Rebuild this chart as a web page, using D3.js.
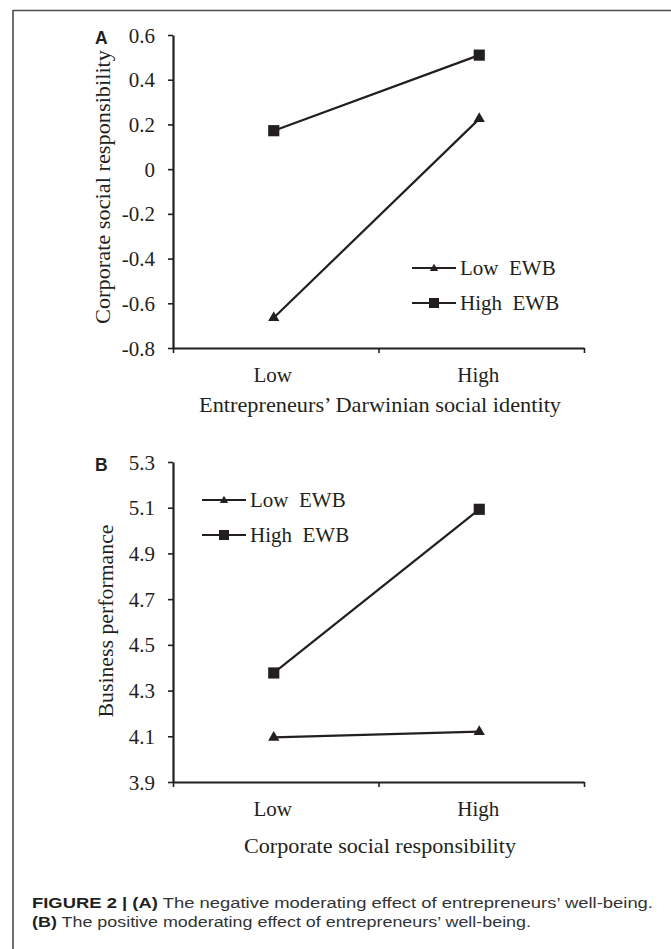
<!DOCTYPE html>
<html>
<head>
<meta charset="utf-8">
<script src="https://cdn.jsdelivr.net/npm/d3@7"></script>
<style>
    body { margin: 0; background: #fff; }
    svg { display: block; }
    text { fill: #231f20; }
    .serif { font-family: "Liberation Serif", "Times New Roman", serif; font-size: 21px; }
</style>
</head>
<body>
<svg id="fig"></svg>
<script>
// values
var categories = ["Low", "High"];
var seriesNames = ["Low  EWB", "High  EWB"];

var aLowEWB = [-0.665, 0.225];
var aHighEWB = [0.172, 0.51];
var aTicks = [-0.8, -0.6, -0.4, -0.2, 0, 0.2, 0.4, 0.6];

var bLowEWB = [4.095, 4.12];
var bHighEWB = [4.377, 5.093];
var bTicks = [3.9, 4.1, 4.3, 4.5, 4.7, 4.9, 5.1, 5.3];

var ink = "#231f20";
var W = 671, H = 949;

var svg = d3.select("#fig").attr("width", W).attr("height", H);

// frame (top and left rules)
svg.append("line").attr("x1", 13).attr("x2", W).attr("y1", 10.5).attr("y2", 10.5)
    .attr("stroke", "#4d4d4d").attr("stroke-width", 1.6);
svg.append("line").attr("x1", 13).attr("x2", 13).attr("y1", 10).attr("y2", H)
    .attr("stroke", "#4d4d4d").attr("stroke-width", 1.6);

function fmt(d) {
    if (d === 0) return "0";
    var s = d3.format(".1f")(Math.abs(d));
    return (d < 0 ? "-" : "") + s;
}

function drawMarker(g, type, x, y, big) {
    var sym = type === "square" ? d3.symbolSquare : d3.symbolTriangle;
    var size = type === "square" ? (big ? 125 : 100) : (big ? 55 : 30);
    g.append("path").attr("d", d3.symbol().type(sym).size(size)())
        .attr("transform", "translate(" + x + "," + y + ")").attr("fill", ink);
}

function drawPanel(cfg) {
    var g = svg.append("g");

    var x = d3.scaleBand().domain(categories).range([173, 584]).padding(0);
    var xEdge = d3.scaleLinear().domain([0, categories.length]).range([173, 584]);
    var y = d3.scaleLinear().domain(cfg.domain).range([cfg.bottom, cfg.top]);

    // Y axis
    var yg = g.append("g").attr("transform", "translate(173,0)")
        .call(d3.axisLeft(y).tickValues(cfg.ticks).tickFormat(fmt)
            .tickSize(5).tickSizeOuter(0).tickPadding(13));
    // X axis: ticks on band edges
    var xg = g.append("g").attr("transform", "translate(0," + cfg.bottom + ")")
        .call(d3.axisBottom(xEdge).tickValues(d3.range(categories.length + 1))
            .tickFormat("").tickSize(5).tickSizeOuter(0));

    [yg, xg].forEach(function (a) {
        a.select(".domain").attr("stroke", ink).attr("stroke-width", 2.2);
        a.selectAll(".tick line").attr("stroke", ink).attr("stroke-width", 1.6);
        a.selectAll(".tick text").attr("class", "serif").style("fill", ink);
    });
    yg.selectAll(".tick text").attr("dy", "0.34em");

    // category labels
    g.selectAll(".cat").data(categories).enter().append("text")
        .attr("class", "serif")
        .attr("x", function (d) { return x(d) + x.bandwidth() / 2 - 3; })
        .attr("y", cfg.bottom + 34)
        .attr("text-anchor", "middle")
        .text(function (d) { return d; });

    // axis titles
    g.append("text").attr("class", "serif")
        .attr("x", 380).attr("y", cfg.bottom + cfg.xTitleGap)
        .attr("text-anchor", "middle")
        .attr("textLength", cfg.xTitleLen).attr("lengthAdjust", "spacingAndGlyphs")
        .text(cfg.xTitle);
    g.append("text").attr("class", "serif")
        .attr("transform", "translate(" + cfg.yTitleX + "," + cfg.yTitleY + ") rotate(-90)")
        .attr("text-anchor", "middle")
        .attr("textLength", cfg.yTitleLen).attr("lengthAdjust", "spacingAndGlyphs")
        .text(cfg.yTitle);

    // panel letter
    g.append("text").attr("x", 95).attr("y", cfg.top + 8.5)
        .style("font-family", "Liberation Sans, Arial, sans-serif")
        .style("font-weight", "bold").style("font-size", "17.5px")
        .text(cfg.letter);

    // series lines + markers
    function px(i) { return x(categories[i]) + x.bandwidth() / 2 - 2; }
    var line = d3.line()
        .x(function (d, i) { return px(i); })
        .y(function (d) { return y(d); });

    var series = [
        {name: seriesNames[0], values: cfg.low, marker: "triangle"},
        {name: seriesNames[1], values: cfg.high, marker: "square"}
    ];

    series.forEach(function (s) {
        g.append("path").datum(s.values).attr("d", line)
            .attr("fill", "none").attr("stroke", ink).attr("stroke-width", 2.2);
        s.values.forEach(function (v, i) {
            drawMarker(g, s.marker, px(i), y(v), true);
        });
    });

    // legend
    series.forEach(function (s, i) {
        var ly = cfg.legY + i * 35;
        g.append("line").attr("x1", cfg.legX).attr("x2", cfg.legX + 44)
            .attr("y1", ly).attr("y2", ly).attr("stroke", ink).attr("stroke-width", 2);
        drawMarker(g, s.marker, cfg.legX + 22, ly + (s.marker === "triangle" ? 0.5 : 0), false);
        g.append("text").attr("class", "serif").style("white-space", "pre")
            .attr("x", cfg.legX + 48).attr("y", ly).attr("dy", "0.34em")
            .text(s.name);
    });
}

drawPanel({
    letter: "A", domain: [-0.8, 0.6], ticks: aTicks, top: 35, bottom: 348,
    low: aLowEWB, high: aHighEWB,
    xTitle: "Entrepreneurs\u2019 Darwinian social identity", xTitleGap: 64, xTitleLen: 362,
    yTitle: "Corporate social responsibility", yTitleX: 110, yTitleY: 187, yTitleLen: 274,
    legX: 412, legY: 268
});

drawPanel({
    letter: "B", domain: [3.9, 5.3], ticks: bTicks, top: 462, bottom: 782,
    low: bLowEWB, high: bHighEWB,
    xTitle: "Corporate social responsibility", xTitleGap: 71, xTitleLen: 272,
    yTitle: "Business performance", yTitleX: 113, yTitleY: 621, yTitleLen: 193,
    legX: 202, legY: 500
});

// caption
var cap = svg.append("g")
    .style("font-family", "Liberation Sans, Arial, sans-serif").style("font-size", "14px");
var l1 = cap.append("text").attr("x", 32).attr("y", 908)
    .attr("textLength", 621).attr("lengthAdjust", "spacingAndGlyphs");
l1.append("tspan").style("font-weight", "bold").text("FIGURE 2 | (A)");
l1.append("tspan").style("fill", "#333").text(" The negative moderating effect of entrepreneurs\u2019 well-being.");
var l2 = cap.append("text").attr("x", 32).attr("y", 927)
    .attr("textLength", 499).attr("lengthAdjust", "spacingAndGlyphs");
l2.append("tspan").style("font-weight", "bold").text("(B)");
l2.append("tspan").style("fill", "#333").text(" The positive moderating effect of entrepreneurs\u2019 well-being.");
</script>
</body>
</html>
